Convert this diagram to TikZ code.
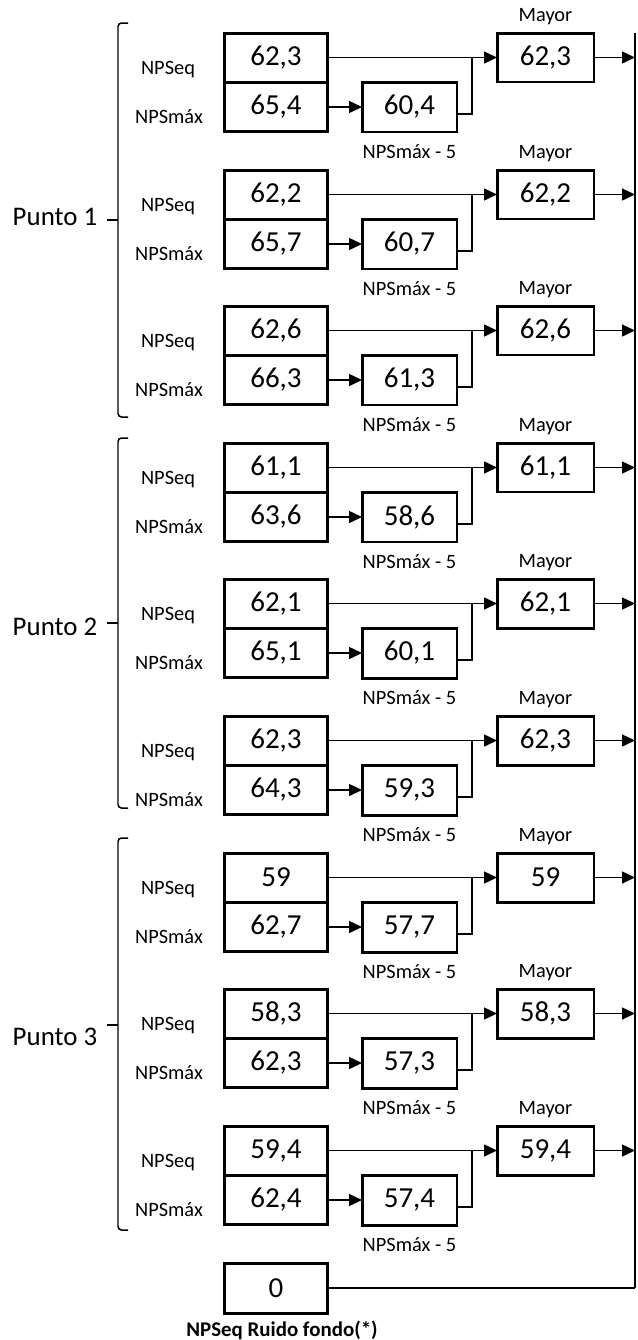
\documentclass[tikz,border=0pt]{standalone}
\usepackage{fontspec}
\setmainfont{Carlito}
\usetikzlibrary{arrows.meta}

\begin{document}
\begin{tikzpicture}[x=0.02cm,y=-0.02cm,
    valbox/.style={draw, line width=1.7pt, inner sep=0pt, outer sep=0pt,
        minimum width=2.08cm, minimum height=0.98cm, font=\fontsize{16.5}{19}\selectfont},
    resbox/.style={valbox, minimum width=1.9cm, minimum height=1cm},
    maybox/.style={valbox, minimum width=1.94cm},
    small/.style={inner sep=0pt, font=\fontsize{11.6}{14}\selectfont},
    link/.style={line width=0.85pt},
    tolink/.style={link, -{Triangle[length=0.26cm,width=0.24cm]}}]
    \useasboundingbox (0,0) rectangle (637,1340);

    % bus on the right
    \coordinate (bustop) at (635,33);
    \coordinate (busbot) at (635,1288);
    \draw[link] (bustop) -- (busbot);

    % Punto 1
    \node[font=\fontsize{15.3}{18}\selectfont] (p1) at (55,217) {Punto 1};
    \draw[link, rounded corners=2pt] (128,23) -- (118,23) -- (118,417) -- (128,417);
    \draw[link] (118,220) -- (107,220);

    \node[small] (lq0) at (168,70) {NPSeq};
    \node[small] (lm0) at (169,117) {NPSmáx};
    \node[valbox] (eq0) at (276,57.5) {62,3};
    \node[valbox] (mx0) at (276,107) {65,4};
    \node[resbox] (rs0) at (409.5,107) {60,4};
    \node[maybox] (my0) at (545.5,57.5) {62,3};
    \node[small] (tr0) at (409.5,152) {NPSmáx - 5};
    \node[small] (tm0) at (545.5,17) {Mayor};
    \coordinate (j0) at (472,57.5);
    \draw[tolink] (eq0) -- (my0);
    \draw[tolink] (mx0) -- (rs0);
    \draw[link] ([yshift=-0.14cm]rs0.east) -| (j0);
    \draw[tolink] (my0.east) -- (my0.east -| bustop);

    \node[small] (lq1) at (168,207) {NPSeq};
    \node[small] (lm1) at (169,254) {NPSmáx};
    \node[valbox] (eq1) at (276,194.5) {62,2};
    \node[valbox] (mx1) at (276,244) {65,7};
    \node[resbox] (rs1) at (409.5,244) {60,7};
    \node[maybox] (my1) at (545.5,194.5) {62,2};
    \node[small] (tr1) at (409.5,289) {NPSmáx - 5};
    \node[small] (tm1) at (545.5,154) {Mayor};
    \coordinate (j1) at (472,194.5);
    \draw[tolink] (eq1) -- (my1);
    \draw[tolink] (mx1) -- (rs1);
    \draw[link] ([yshift=-0.14cm]rs1.east) -| (j1);
    \draw[tolink] (my1.east) -- (my1.east -| bustop);

    \node[small] (lq2) at (168,343) {NPSeq};
    \node[small] (lm2) at (169,390) {NPSmáx};
    \node[valbox] (eq2) at (276,330.5) {62,6};
    \node[valbox] (mx2) at (276,380) {66,3};
    \node[resbox] (rs2) at (409.5,380) {61,3};
    \node[maybox] (my2) at (545.5,330.5) {62,6};
    \node[small] (tr2) at (409.5,425) {NPSmáx - 5};
    \node[small] (tm2) at (545.5,290) {Mayor};
    \coordinate (j2) at (472,330.5);
    \draw[tolink] (eq2) -- (my2);
    \draw[tolink] (mx2) -- (rs2);
    \draw[link] ([yshift=-0.14cm]rs2.east) -| (j2);
    \draw[tolink] (my2.east) -- (my2.east -| bustop);

    % Punto 2
    \node[font=\fontsize{15.3}{18}\selectfont] (p2) at (55,627) {Punto 2};
    \draw[link, rounded corners=2pt] (128,438) -- (118,438) -- (118,808) -- (128,808);
    \draw[link] (118,623) -- (107,623);

    \node[small] (lq3) at (168,480) {NPSeq};
    \node[small] (lm3) at (169,527) {NPSmáx};
    \node[valbox] (eq3) at (276,467.5) {61,1};
    \node[valbox] (mx3) at (276,517) {63,6};
    \node[resbox] (rs3) at (409.5,517) {58,6};
    \node[maybox] (my3) at (545.5,467.5) {61,1};
    \node[small] (tr3) at (409.5,562) {NPSmáx - 5};
    \node[small] (tm3) at (545.5,427) {Mayor};
    \coordinate (j3) at (472,467.5);
    \draw[tolink] (eq3) -- (my3);
    \draw[tolink] (mx3) -- (rs3);
    \draw[link] ([yshift=-0.14cm]rs3.east) -| (j3);
    \draw[tolink] (my3.east) -- (my3.east -| bustop);

    \node[small] (lq4) at (168,616) {NPSeq};
    \node[small] (lm4) at (169,663) {NPSmáx};
    \node[valbox] (eq4) at (276,603.5) {62,1};
    \node[valbox] (mx4) at (276,653) {65,1};
    \node[resbox] (rs4) at (409.5,653) {60,1};
    \node[maybox] (my4) at (545.5,603.5) {62,1};
    \node[small] (tr4) at (409.5,698) {NPSmáx - 5};
    \node[small] (tm4) at (545.5,563) {Mayor};
    \coordinate (j4) at (472,603.5);
    \draw[tolink] (eq4) -- (my4);
    \draw[tolink] (mx4) -- (rs4);
    \draw[link] ([yshift=-0.14cm]rs4.east) -| (j4);
    \draw[tolink] (my4.east) -- (my4.east -| bustop);

    \node[small] (lq5) at (168,753) {NPSeq};
    \node[small] (lm5) at (169,800) {NPSmáx};
    \node[valbox] (eq5) at (276,740.5) {62,3};
    \node[valbox] (mx5) at (276,790) {64,3};
    \node[resbox] (rs5) at (409.5,790) {59,3};
    \node[maybox] (my5) at (545.5,740.5) {62,3};
    \node[small] (tr5) at (409.5,835) {NPSmáx - 5};
    \node[small] (tm5) at (545.5,700) {Mayor};
    \coordinate (j5) at (472,740.5);
    \draw[tolink] (eq5) -- (my5);
    \draw[tolink] (mx5) -- (rs5);
    \draw[link] ([yshift=-0.14cm]rs5.east) -| (j5);
    \draw[tolink] (my5.east) -- (my5.east -| bustop);

    % Punto 3
    \node[font=\fontsize{15.3}{18}\selectfont] (p3) at (55,1037) {Punto 3};
    \draw[link, rounded corners=2pt] (128,838) -- (118,838) -- (118,1230) -- (128,1230);
    \draw[link] (118,1025) -- (107,1025);

    \node[small] (lq6) at (168,890) {NPSeq};
    \node[small] (lm6) at (169,937) {NPSmáx};
    \node[valbox] (eq6) at (276,877.5) {59};
    \node[valbox] (mx6) at (276,927) {62,7};
    \node[resbox] (rs6) at (409.5,927) {57,7};
    \node[maybox] (my6) at (545.5,877.5) {59};
    \node[small] (tr6) at (409.5,972) {NPSmáx - 5};
    \node[small] (tm6) at (545.5,837) {Mayor};
    \coordinate (j6) at (472,877.5);
    \draw[tolink] (eq6) -- (my6);
    \draw[tolink] (mx6) -- (rs6);
    \draw[link] ([yshift=-0.14cm]rs6.east) -| (j6);
    \draw[tolink] (my6.east) -- (my6.east -| bustop);

    \node[small] (lq7) at (168,1026) {NPSeq};
    \node[small] (lm7) at (169,1073) {NPSmáx};
    \node[valbox] (eq7) at (276,1013.5) {58,3};
    \node[valbox] (mx7) at (276,1063) {62,3};
    \node[resbox] (rs7) at (409.5,1063) {57,3};
    \node[maybox] (my7) at (545.5,1013.5) {58,3};
    \node[small] (tr7) at (409.5,1108) {NPSmáx - 5};
    \node[small] (tm7) at (545.5,973) {Mayor};
    \coordinate (j7) at (472,1013.5);
    \draw[tolink] (eq7) -- (my7);
    \draw[tolink] (mx7) -- (rs7);
    \draw[link] ([yshift=-0.14cm]rs7.east) -| (j7);
    \draw[tolink] (my7.east) -- (my7.east -| bustop);

    \node[small] (lq8) at (168,1163) {NPSeq};
    \node[small] (lm8) at (169,1210) {NPSmáx};
    \node[valbox] (eq8) at (276,1150.5) {59,4};
    \node[valbox] (mx8) at (276,1200) {62,4};
    \node[resbox] (rs8) at (409.5,1200) {57,4};
    \node[maybox] (my8) at (545.5,1150.5) {59,4};
    \node[small] (tr8) at (409.5,1245) {NPSmáx - 5};
    \node[small] (tm8) at (545.5,1110) {Mayor};
    \coordinate (j8) at (472,1150.5);
    \draw[tolink] (eq8) -- (my8);
    \draw[tolink] (mx8) -- (rs8);
    \draw[link] ([yshift=-0.14cm]rs8.east) -| (j8);
    \draw[tolink] (my8.east) -- (my8.east -| bustop);

    % background noise
    \node[valbox, minimum height=1cm] (fondo) at (276,1288) {0};
    \node[small, font=\fontsize{11.9}{14}\selectfont\bfseries] (lfondo) at (282,1330) {NPSeq Ruido fondo(*)};
    \draw[link] (fondo.east) -- (busbot);
\end{tikzpicture}
\end{document}
